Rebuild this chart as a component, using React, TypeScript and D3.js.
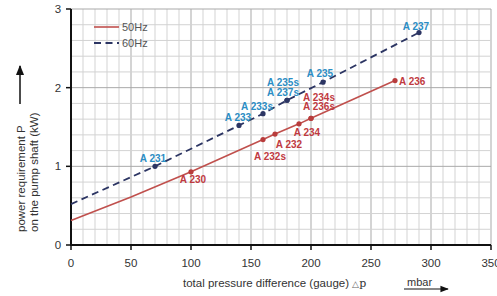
import React from "react";
import * as d3 from "d3";

// ---- data ----
const xTicks = [0, 50, 100, 150, 200, 250, 300, 350];
const yTicks = [0, 1, 2, 3];
const seriesNames = ["50Hz", "60Hz"];

// curve vertices (mbar, kW)
const line50x = [0, 50, 100, 160, 170, 190, 200, 270];
const line50y = [0.31, 0.61, 0.93, 1.34, 1.41, 1.54, 1.61, 2.09];
const line60x = [0, 70, 140, 160, 180, 210, 290];
const line60y = [0.52, 1.0, 1.52, 1.67, 1.84, 2.07, 2.7];

// marked pumps
const pts50Labels = ["A 230", "A 232s", "A 232", "A 234", "A 234s", "A 236s", "A 236"];
const pts50x = [100, 160, 170, 190, 200, 200, 270];
const pts50y = [0.93, 1.34, 1.41, 1.54, 1.61, 1.61, 2.09];
const pts60Labels = ["A 231", "A 233", "A 233s", "A 237s", "A 235s", "A 235", "A 237"];
const pts60x = [70, 140, 160, 180, 180, 210, 290];
const pts60y = [1.0, 1.52, 1.67, 1.84, 1.84, 2.07, 2.7];

// ---- layout (label offsets in px) ----
const labelLayout: Record<string, [number, number, string]> = {
  "A 230": [2, 11, "middle"],
  "A 232s": [7, 20, "middle"],
  "A 232": [14, 14, "middle"],
  "A 234": [8, 12, "middle"],
  "A 234s": [8, -17, "middle"],
  "A 236s": [8, -8, "middle"],
  "A 236": [4, 4, "start"],
  "A 231": [-2, -4, "middle"],
  "A 233": [-1, -4, "middle"],
  "A 233s": [-6, -4, "middle"],
  "A 237s": [-4, -4, "middle"],
  "A 235s": [-4, -14, "middle"],
  "A 235": [-3, -5, "middle"],
  "A 237": [-3, -3, "middle"],
};

const W = 497;
const H = 296;
const L = 71, R = 491, T = 9, B = 245;
const RED = "#c0504d";
const RED_TXT = "#bf3a3f";
const NAVY = "#2c3563";
const BLUE_TXT = "#2b8dc4";
const FONT = "'Liberation Sans', Arial, sans-serif";

export default function App() {
  const x = d3.scaleLinear().domain([0, 350]).range([L, R]);
  const y = d3.scaleLinear().domain([0, 3]).range([B, T]);
  const line = d3.line<[number, number]>().x((d) => x(d[0])).y((d) => y(d[1]));
  const d50 = line(line50x.map((v, i) => [v, line50y[i]] as [number, number]));
  const d60 = line(line60x.map((v, i) => [v, line60y[i]] as [number, number]));

  const xMinor = d3.range(0, 351, 10);
  const yMinor = d3.range(0, 3.0001, 0.2);

  const renderPts = (lx: number[], ly: number[], labels: string[], col: string, tcol: string) =>
    lx.map((v, i) => {
      const px = x(v), py = y(ly[i]);
      const [dx, dy, anchor] = labelLayout[labels[i]];
      return (
        <g key={labels[i]}>
          <circle cx={px} cy={py} r={2.6} fill={col} />
          <text x={px + dx} y={py + dy} textAnchor={anchor as any} fontSize={10} fontWeight="bold" fill={tcol} fontFamily={FONT}>
            {labels[i]}
          </text>
        </g>
      );
    });

  return (
    <svg width={W} height={H} style={{ position: "fixed", left: 0, top: 0, background: "#fff" }} fontFamily={FONT}>
      <defs>
        <marker id="ah" viewBox="0 0 10 10" refX="9" refY="5" markerWidth="7" markerHeight="7" orient="auto-start-reverse">
          <path d="M0,1 L10,5 L0,9 z" fill="#111" />
        </marker>
      </defs>
      {/* grid */}
      {xMinor.map((v) => (
        <line key={"gx" + v} x1={x(v)} x2={x(v)} y1={T} y2={B} stroke={v % 50 === 0 ? "#a9a9a9" : "#d3d3d3"} strokeWidth={1} />
      ))}
      {yMinor.map((v, i) => (
        <line key={"gy" + i} x1={L} x2={R} y1={y(v)} y2={y(v)} stroke={i % 5 === 0 ? "#a9a9a9" : "#d3d3d3"} strokeWidth={1} />
      ))}
      {/* axes */}
      <line x1={L} x2={R} y1={B} y2={B} stroke="#111" strokeWidth={2} />
      <line x1={L} x2={L} y1={T} y2={B + 1} stroke="#111" strokeWidth={2} />
      {xTicks.map((v) => (
        <g key={"xt" + v}>
          <line x1={x(v)} x2={x(v)} y1={B} y2={B + 5} stroke="#111" strokeWidth={1.5} />
          <text x={x(v)} y={267} textAnchor="middle" fontSize={11.5} fill="#333">{v}</text>
        </g>
      ))}
      {yTicks.map((v) => (
        <g key={"yt" + v}>
          <line x1={L - 5} x2={L} y1={y(v)} y2={y(v)} stroke="#111" strokeWidth={1.5} />
          <text x={58} y={y(v) + 4} textAnchor="middle" fontSize={11.5} fill="#333">{v}</text>
        </g>
      ))}
      {/* series */}
      <path d={d50 || ""} fill="none" stroke={RED} strokeWidth={1.6} />
      <path d={d60 || ""} fill="none" stroke={NAVY} strokeWidth={1.8} strokeDasharray="7,4.5" />
      {renderPts(pts50x, pts50y, pts50Labels, "#b83c3c", RED_TXT)}
      {renderPts(pts60x, pts60y, pts60Labels, NAVY, BLUE_TXT)}
      {/* legend */}
      <line x1={94} x2={119} y1={27} y2={27} stroke={RED} strokeWidth={1.6} />
      <text x={122} y={31} fontSize={11} fill="#555">{seriesNames[0]}</text>
      <line x1={94} x2={119} y1={43} y2={43} stroke={NAVY} strokeWidth={1.8} strokeDasharray="7,4.5" />
      <text x={122} y={47} fontSize={11} fill="#555">{seriesNames[1]}</text>
      {/* x title */}
      <text x={183} y={287} fontSize={11.5} fill="#333">
        total pressure difference (gauge) <tspan fontSize={9} fill="#666">△</tspan>
        <tspan fontFamily="'DejaVu Serif', serif" fontSize={11}>p</tspan>
      </text>
      <text x={407} y={286} fontSize={11} fill="#333">mbar</text>
      <line x1={404} x2={448} y1={289} y2={289} stroke="#111" strokeWidth={1.2} markerEnd="url(#ah)" />
      {/* y title */}
      <g transform="translate(25,232) rotate(-90)">
        <text x={0} y={0} fontSize={11.5} fill="#333">power requirement P</text>
        <text x={0} y={13} fontSize={11.5} fill="#333">on the pump shaft (kW)</text>
      </g>
      <line x1={20} x2={20} y1={104} y2={66} stroke="#111" strokeWidth={1.5} markerEnd="url(#ah)" />
    </svg>
  );
}
